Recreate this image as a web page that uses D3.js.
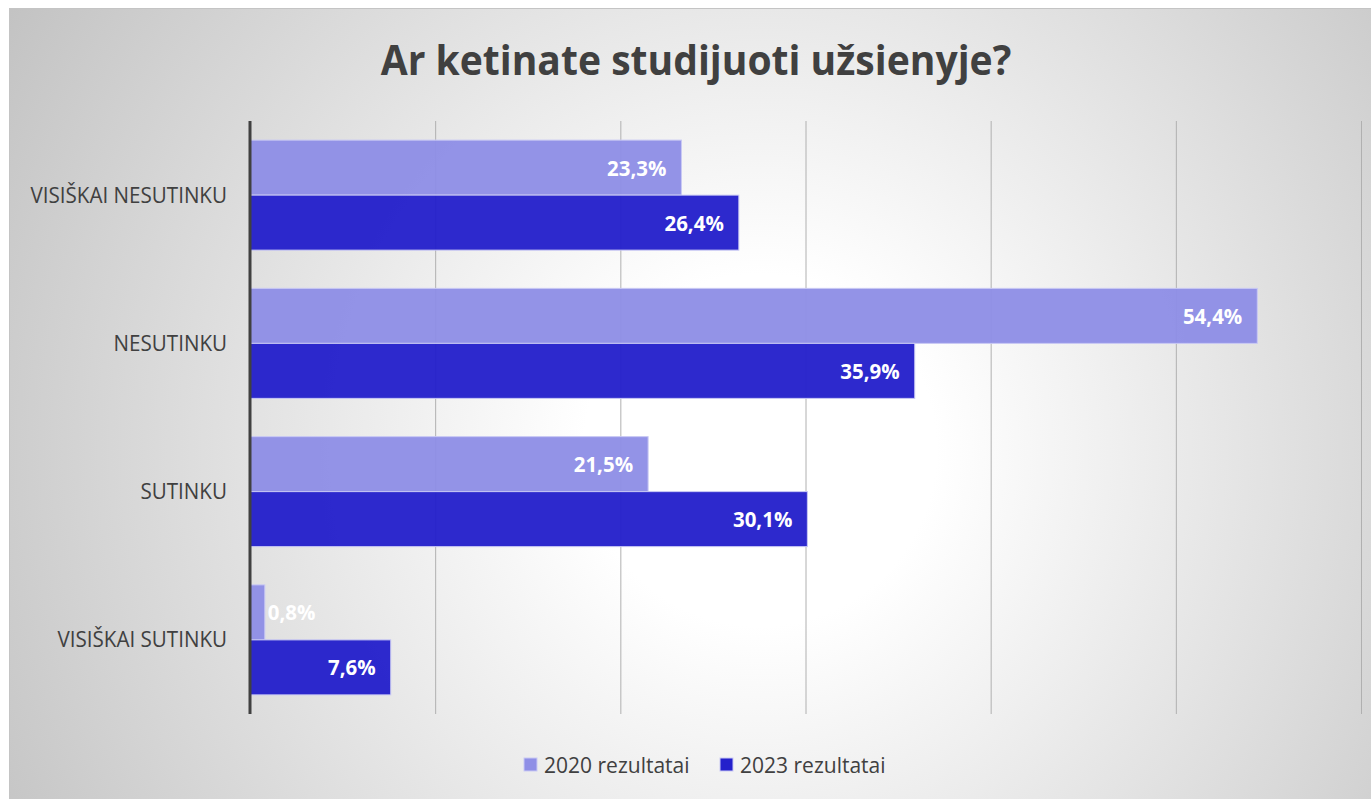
<!DOCTYPE html>
<html>
<head>
<meta charset="utf-8">
<script src="https://cdn.jsdelivr.net/npm/d3@7"></script>
<style>
  html, body { margin: 0; padding: 0; background: #fff; }
  svg { display: block; font-family: "Open Sans", sans-serif; }
</style>
</head>
<body>
<svg id="chart" width="1371" height="799"></svg>
<script>
// data
var categories = ["VISIŠKAI NESUTINKU", "NESUTINKU", "SUTINKU", "VISIŠKAI SUTINKU"];
var seriesNames = ["2020 rezultatai", "2023 rezultatai"];
var values2020 = [0.233, 0.544, 0.215, 0.008];
var values2023 = [0.264, 0.359, 0.301, 0.076];
var xTicks = [0.1, 0.2, 0.3, 0.4, 0.5, 0.6];
var colors = ["#8f8fe6", "#2420cb"];

var plot = {left: 250, right: 1361, top: 121, bottom: 714};

var svg = d3.select("#chart");

// background + frame
var defs = svg.append("defs");
var grad = defs.append("radialGradient")
    .attr("id", "bg")
    .attr("gradientUnits", "userSpaceOnUse")
    .attr("cx", 760).attr("cy", 450).attr("r", 880);
grad.append("stop").attr("offset", 0).attr("stop-color", "#ffffff");
grad.append("stop").attr("offset", 0.2).attr("stop-color", "#ffffff");
grad.append("stop").attr("offset", 1).attr("stop-color", "#c2c2c2");

svg.append("rect")
    .attr("x", 9.5).attr("y", 8.5)
    .attr("width", 1370).attr("height", 800)
    .attr("fill", "url(#bg)")
    .attr("stroke", "#c4c4c4");

// squeeze Open Sans a little toward Calibri widths
function narrow(sel, k) {
  sel.each(function() {
    var w = this.getComputedTextLength();
    d3.select(this).attr("textLength", w * k).attr("lengthAdjust", "spacingAndGlyphs");
  });
}

// scales
var x = d3.scaleLinear().domain([0, 0.6]).range([plot.left, plot.right]);
var y = d3.scaleBand().domain(categories).range([plot.top, plot.bottom])
    .paddingInner(0.258).paddingOuter(0.129);
var y1 = d3.scaleBand().domain(seriesNames).range([0, y.bandwidth()]);

// title
var title = svg.append("text")
    .attr("x", 696).attr("y", 75)
    .attr("text-anchor", "middle")
    .attr("font-size", 42).attr("font-weight", 700)
    .attr("fill", "#404040")
    .text("Ar ketinate studijuoti užsienyje?");
narrow(title, 0.93);

// gridlines
var grid = svg.append("g")
    .attr("transform", "translate(0," + plot.bottom + ")")
    .call(d3.axisBottom(x).tickValues(xTicks).tickSize(-(plot.bottom - plot.top)).tickFormat(""));
grid.select(".domain").remove();
grid.selectAll(".tick line").attr("stroke", "#b0b0b0").attr("stroke-width", 1);

// bars
var rows = categories.map(function(c, i) {
  return {cat: c, vals: [
    {s: seriesNames[0], v: values2020[i], k: 0},
    {s: seriesNames[1], v: values2023[i], k: 1}
  ]};
});

var groups = svg.append("g").selectAll("g")
    .data(rows).enter().append("g")
    .attr("transform", function(d) { return "translate(0," + y(d.cat) + ")"; });

groups.selectAll("rect")
    .data(function(d) { return d.vals; })
    .enter().append("rect")
    .attr("x", x(0))
    .attr("y", function(d) { return y1(d.s); })
    .attr("width", function(d) { return x(d.v) - x(0); })
    .attr("height", y1.bandwidth())
    .attr("fill", function(d) { return colors[d.k]; })
    .attr("fill-opacity", 0.96)
    .attr("stroke", "#c9c9f4")
    .attr("stroke-width", 1);

var fmt = function(v) { return d3.format(".1f")(v * 100).replace(".", ",") + "%"; };

groups.selectAll("text.lbl")
    .data(function(d) { return d.vals; })
    .enter().append("text")
    .attr("class", "lbl")
    .attr("font-size", 22).attr("font-weight", 700)
    .attr("fill", "#ffffff")
    .attr("y", function(d) { return y1(d.s) + y1.bandwidth() / 2 + 8; })
    .text(function(d) { return fmt(d.v); })
    .each(function(d) {
      var w = this.getComputedTextLength() * 0.93;
      var bw = x(d.v) - x(0);
      var t = d3.select(this);
      if (bw > w + 24) t.attr("x", x(d.v) - 15).attr("text-anchor", "end");
      else t.attr("x", x(d.v) + 3).attr("text-anchor", "start");
    })
    .call(narrow, 0.93);

// category labels
var cats = svg.append("g").selectAll("text")
    .data(categories).enter().append("text")
    .attr("x", 227)
    .attr("y", function(d) { return y(d) + y.bandwidth() / 2 + 7.5; })
    .attr("text-anchor", "end")
    .attr("font-size", 21)
    .attr("fill", "#404040")
    .text(function(d) { return d; });
narrow(cats, 0.98);

// value axis line
svg.append("line")
    .attr("x1", x(0)).attr("x2", x(0))
    .attr("y1", plot.top).attr("y2", plot.bottom)
    .attr("stroke", "#404040").attr("stroke-width", 3);

// legend
var legendX = [524, 720];
var legend = svg.append("g").selectAll("g")
    .data(seriesNames).enter().append("g")
    .attr("transform", function(d, i) { return "translate(" + legendX[i] + ",758)"; });
legend.append("rect")
    .attr("width", 13).attr("height", 13)
    .attr("fill", function(d, i) { return colors[i]; })
    .attr("stroke", "#c9c9f4");
var legText = legend.append("text")
    .attr("x", 20).attr("y", 15)
    .attr("font-size", 22)
    .attr("fill", "#404040")
    .text(function(d) { return d; });
narrow(legText, 0.955);
</script>
</body>
</html>
